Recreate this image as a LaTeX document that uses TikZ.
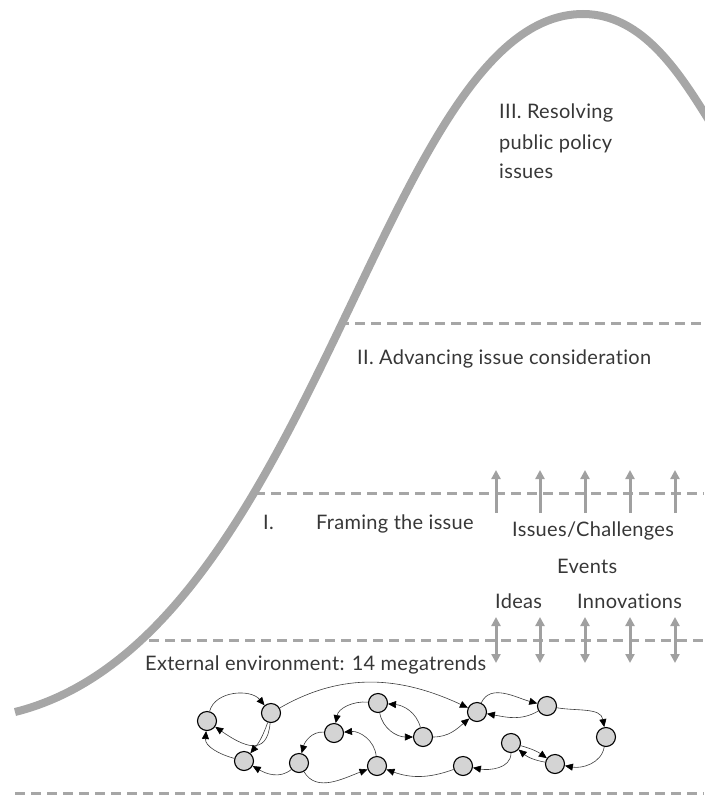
\documentclass[tikz,border=0pt]{standalone}
\usepackage{fontspec}
\setmainfont{Lato}[Ligatures=NoCommon, LetterSpace=1.5]
\usepackage{tikz}
\usetikzlibrary{arrows.meta,positioning}
\definecolor{curvegray}{RGB}{166,166,166}
\definecolor{arrowgray}{RGB}{160,160,160}
\definecolor{trendfill}{RGB}{212,212,212}
\definecolor{textgray}{RGB}{55,55,55}
\definecolor{linkgray}{RGB}{60,60,60}

\begin{document}
\begin{tikzpicture}[
    x=1pt, y=1pt,
    txt/.style={anchor=base west, inner sep=0pt, text=textgray, font=\fontsize{20}{24}\selectfont},
    trend/.style={circle, draw=black, fill=trendfill, line width=1.1pt, minimum size=19pt, inner sep=0pt},
    link/.style={-{Triangle[length=8pt,width=7pt,black]}, draw=linkgray, line width=0.6pt},
    stageline/.style={draw=curvegray, line width=3pt, dash pattern=on 10pt off 6pt},
    bell/.style={draw=curvegray, line width=8pt},
    uparrow/.style={-{Triangle[length=9pt,width=9pt]}, draw=arrowgray, line width=3pt},
    twoway/.style={{Triangle[length=9pt,width=9pt]}-{Triangle[length=9pt,width=9pt]}, draw=arrowgray, line width=3pt}
]
\useasboundingbox (0,0) rectangle (704,-795);

% Issue curve
\draw[bell] (15,-712) .. controls (315,-637) and (383,-14) .. (583,-14)
    .. controls (643,-14) and (680,-74) .. (710,-122);

% Stage boundaries
\draw[stageline] (15,-793) -- (704,-793);
\draw[stageline] (149,-640) -- (704,-640);
\draw[stageline] (255,-493) -- (704,-493);
\draw[stageline] (339,-323) -- (704,-323);

% Stage labels
\node[txt] (stage3a) at (499,-118) {III. Resolving};
\node[txt] (stage3b) at (499,-149) {public policy};
\node[txt] (stage3c) at (499,-178) {issues};
\node[txt] (stage2) at (357,-364) {II. Advancing issue consideration};
\node[txt] (stage1num) at (263,-529) {I.};
\node[txt] (stage1) at (316,-529) {Framing the issue};
\node[txt] (issues) at (512,-536) {Issues/Challenges};
\node[txt] (events) at (557,-573) {Events};
\node[txt] (ideas) at (495,-608) {Ideas};
\node[txt] (innov) at (577,-608) {Innovations};
\node[txt] (extenv) at (145,-670) {External environment: 14 megatrends};

% Pressure arrows
\coordinate (p1) at (496,-513);
\coordinate (p2) at (540,-513);
\coordinate (p3) at (585,-513);
\coordinate (p4) at (630,-513);
\coordinate (p5) at (675,-513);
\coordinate (q1) at (496,-617);
\coordinate (q2) at (540,-617);
\coordinate (q3) at (585,-617);
\coordinate (q4) at (630,-617);
\coordinate (q5) at (675,-617);
\draw[uparrow] (p1) -- ++(0,43);
\draw[uparrow] (p2) -- ++(0,43);
\draw[uparrow] (p3) -- ++(0,43);
\draw[uparrow] (p4) -- ++(0,43);
\draw[uparrow] (p5) -- ++(0,43);
\draw[twoway] (q1) -- ++(0,-46);
\draw[twoway] (q2) -- ++(0,-46);
\draw[twoway] (q3) -- ++(0,-46);
\draw[twoway] (q4) -- ++(0,-46);
\draw[twoway] (q5) -- ++(0,-46);

% Megatrends
\node[trend] (m1) at (207,-721) {};
\node[trend] (m2) at (271,-713) {};
\node[trend] (m3) at (244,-761) {};
\node[trend] (m4) at (299,-763) {};
\node[trend] (m5) at (334,-733) {};
\node[trend] (m6) at (378,-703) {};
\node[trend] (m7) at (423,-737) {};
\node[trend] (m8) at (377,-766) {};
\node[trend] (m9) at (477,-712) {};
\node[trend] (m10) at (547,-706) {};
\node[trend] (m11) at (606,-737) {};
\node[trend] (m12) at (511,-743) {};
\node[trend] (m13) at (555,-764) {};
\node[trend] (m14) at (463,-766) {};

% Interactions
\draw[link] (m1) to[out=75, in=130] (m2);
\draw[link] (m2) to[out=-95, in=-35, looseness=1.6] (m1);
\draw[link] (m2) to[bend left=10] (m3);
\draw[link] (m3) to[out=165, in=-95] (m1);
\draw[link] (m4) to[out=-140, in=-30] (m3);
\draw[link] (m5) to[out=175, in=75] (m4);
\draw[link] (m6) to[out=175, in=80] (m5);
\draw[link] (m7) to[out=105, in=-5] (m6);
\draw[link] (m6) to[out=-80, in=180] (m7);
\draw[link] (m8) to[out=95, in=5] (m5);
\draw[link] (m4) to[out=-60, in=-160] (m8);
\draw[link] (m14) to[out=-160, in=-20] (m8);
\draw[link] (m2) to[out=30, in=155] (m9);
\draw[link] (m7) to[out=0, in=-140] (m9);
\draw[link] (m9) to[out=65, in=165] (m10);
\draw[link] (m10) to[out=-150, in=-10] (m9);
\draw[link] (m10) to[out=-10, in=100] (m11);
\draw[link] (m11) to[out=-100, in=-10] (m13);
\draw[link] (m12) to[bend left=10] (m13);
\draw[link] (m13) to[bend left=15] (m12);
\draw[link] (m12) to[out=-90, in=-10] (m14);

\end{tikzpicture}
\end{document}
